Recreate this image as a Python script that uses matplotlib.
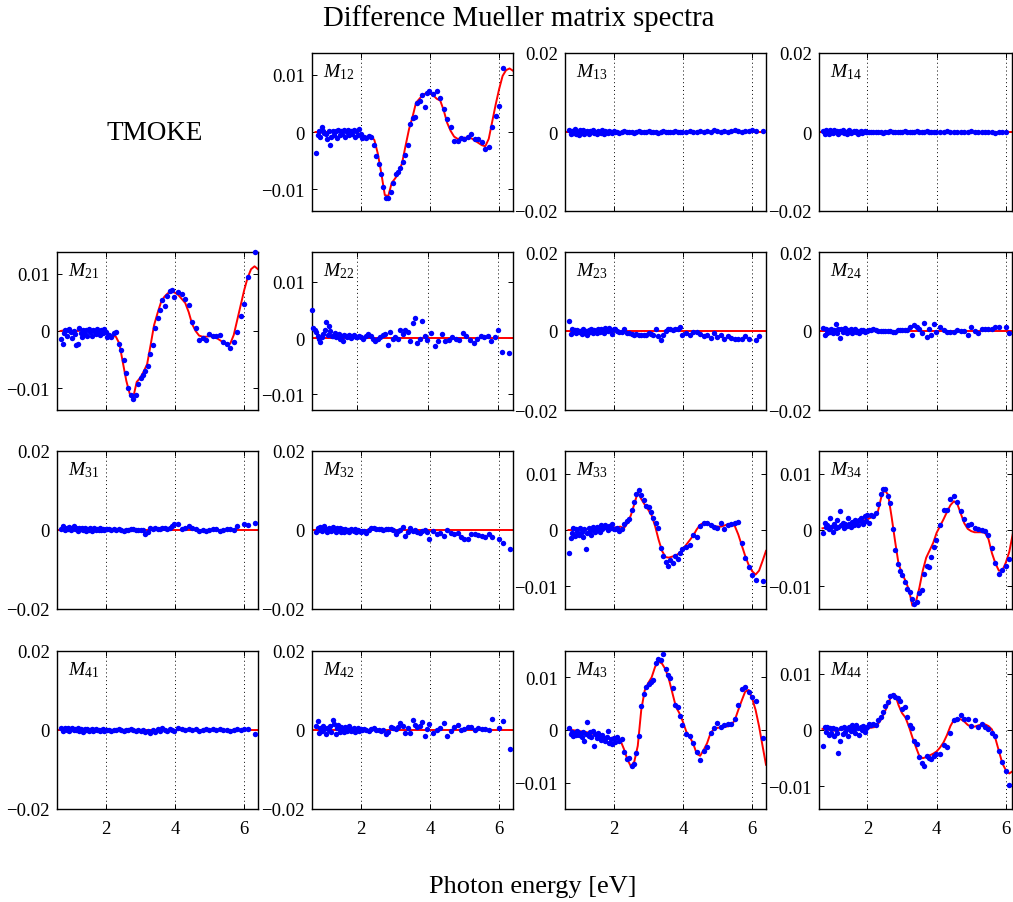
import numpy as np
import matplotlib
matplotlib.use("Agg")
import matplotlib.pyplot as plt

plt.rcParams['font.family'] = ['Liberation Serif', 'DejaVu Serif']
plt.rcParams['mathtext.fontset'] = 'custom'
plt.rcParams['mathtext.rm'] = 'Liberation Serif'
plt.rcParams['mathtext.it'] = 'Liberation Serif:italic'

nan = float('nan')

# photon energy of measured points [eV]
energy = [0.72, 0.76, 0.80, 0.84, 0.88, 0.92, 0.96, 1.00, 1.04, 1.08, 1.12, 1.16,
          1.20, 1.24, 1.28, 1.32, 1.36, 1.40, 1.44, 1.48, 1.52, 1.56, 1.60, 1.64,
          1.68, 1.72, 1.76, 1.80, 1.84, 1.88, 1.92, 1.96, 2.00, 2.04,
          2.10, 2.17, 2.24, 2.31, 2.38, 2.45, 2.52, 2.59, 2.66, 2.73, 2.80, 2.87,
          2.94, 3.01, 3.08, 3.15, 3.22, 3.29, 3.36, 3.43, 3.50, 3.57, 3.64, 3.71,
          3.78, 3.85, 3.92, 3.99,
          4.10, 4.20, 4.30, 4.40, 4.50, 4.60, 4.70, 4.80, 4.90, 5.00, 5.10, 5.20,
          5.30, 5.40, 5.50, 5.60, 5.70, 5.80, 5.90, 6.00, 6.10, 6.20, 6.30]

# photon energy of model curves [eV]
energy_fit = [0.7, 0.8, 0.9, 1.0, 1.1, 1.2, 1.3, 1.4, 1.5, 1.6,
              1.7, 1.8, 1.9, 2.0, 2.1, 2.2, 2.3, 2.4, 2.5, 2.6,
              2.7, 2.8, 2.9, 3.0, 3.1, 3.2, 3.3, 3.4, 3.5, 3.6,
              3.7, 3.8, 3.9, 4.0, 4.1, 4.2, 4.3, 4.4, 4.5, 4.6,
              4.7, 4.8, 4.9, 5.0, 5.1, 5.2, 5.3, 5.4, 5.5, 5.6,
              5.7, 5.8, 5.9, 6.0, 6.1, 6.2, 6.3, 6.4]
energy_zero = [0.6, 6.45]
fit_zero = [0.0, 0.0]

# all values below in units of 1e-3
m12_data = ([-3.6, -0.6, 0.2, -0.8, 0.9, 0.1, -0.2, -0.4, -1.2, 0.2, -2.3, -0.9,
             0.2, -0.5, 0.1, -1.0, 0.3, -0.6, 0.2, -0.4, 0.4, -0.8, 0.0, 0.3,
             -0.6, 0.2, -0.3, 0.4, -0.8, 0.2, -0.5, 0.5, -0.3, -1.1]
            + [-0.9, -1.0, -0.7, -0.8, -2.2, -4.2, -5.6, -7.4, -9.6, -11.5, -11.6, -10.4,
               -8.9, -7.3, -6.9, -6.3, -5.2, -4.0, -2.2, 1.4, 2.4, 2.7, 5.1, 5.4,
               6.4, 4.4, 6.8, 7.1]
            + [6.6, 7.2, 6.0, 4.0, 2.3, 0.8, -1.5, -1.6, -1.0, -1.3, -0.9, -0.4,
               -1.2, -1.3, -1.8, -3.0, -2.6, 0.8, 2.8, 4.5, 11.1, nan, nan])
m12_fit = [0.0, 0.0, -0.1, 0.0, 0.0, 0.1, 0.0, 0.1, 0.2, 0.2,
           0.3, 0.2, 0.0, -0.5, -1.0, -0.8, -0.7, -1.4, -3.8, -7.2,
           -11.0, -11.2, -8.9, -8.1, -7.2, -5.4, -2.4, 0.5, 2.6, 5.1,
           5.8, 6.5, 6.8, 6.9, 6.4, 5.8, 5.5, 3.8, 1.6, 0.2,
           -0.8, -1.2, -1.1, -1.0, -1.0, -1.1, -1.5, -1.9, -2.3, -2.5,
           -1.2, 1.8, 4.8, 7.5, 9.8, 10.8, 11.1, 10.7]

m13_data = ([0.5, -0.6, 0.2, -0.3, 0.8, -0.5, 0.1, -0.8, 0.4, -0.2, 0.6, -0.4,
             0.0, 0.3, -0.6, 0.2, -0.1, 0.5, -0.3, 0.1, -0.5, 0.3, 0.0, -0.2,
             0.4, -0.4, 0.2, 0.0, -0.3, 0.3, 0.1, -0.2, 0.2, 0.0]
            + [0.1, -0.2, 0.0, 0.2, -0.1, 0.0, 0.1, -0.2, 0.0, 0.2, 0.1, -0.1,
               0.0, 0.3, -0.1, 0.1, 0.0, -0.2, 0.1, 0.2, 0.0, -0.1, 0.1, 0.0,
               0.2, -0.1, 0.0, 0.1]
            + [0.0, 0.2, -0.1, 0.1, 0.3, 0.0, 0.2, 0.1, 0.4, 0.2, 0.1, 0.3,
               0.0, 0.2, 0.4, 0.3, 0.1, 0.3, 0.2, 0.4, 0.3, nan, 0.2])

m14_data = ([0.3, -0.4, 0.6, 0.0, -0.5, 0.4, 0.1, -0.3, 0.5, -0.1, 0.2, -0.6,
             0.3, 0.0, 0.4, -0.2, 0.1, -0.4, 0.2, 0.5, -0.3, 0.0, 0.3, -0.1,
             0.2, -0.4, 0.1, 0.3, -0.2, 0.0, 0.2, -0.1, 0.1, 0.0]
            + [0.1, 0.0, -0.1, 0.1, 0.0, -0.2, 0.1, 0.0, 0.2, -0.1, 0.0, 0.1,
               -0.1, 0.0, 0.2, 0.1, -0.1, 0.0, 0.1, 0.3, 0.0, -0.1, 0.1, 0.2,
               0.0, -0.1, 0.1, 0.0]
            + [0.1, 0.0, 0.2, -0.1, 0.0, 0.1, 0.0, -0.1, 0.1, 0.2, 0.0, 0.1,
               -0.1, 0.0, 0.1, 0.0, -0.2, 0.1, 0.0, 0.1, nan, nan, nan])

m21_data = ([-1.4, -2.2, -0.3, 0.2, -0.9, 0.1, 0.3, -0.2, -1.2, 0.0, -0.6, -2.5,
             -2.2, 0.6, -0.3, -1.0, 0.1, -0.5, 0.2, -0.8, 0.3, -0.2, -0.9, 0.2,
             0.0, -0.6, 0.3, -0.1, -0.7, 0.2, -0.4, 0.4, -0.2, -1.0]
            + [-0.7, -1.1, -0.4, -0.1, -2.3, -3.4, -5.0, -7.4, -10.0, -11.2, -11.8, -11.2,
               -9.2, -8.2, -7.6, -7.0, -6.2, -4.0, -2.5, 0.5, 2.3, 3.7, 5.4, 4.3,
               6.1, 7.0, 7.2, 5.9]
            + [6.8, 6.5, 5.6, 4.5, 1.6, 0.5, -1.5, -1.3, -1.5, -0.6, -0.8, -0.9,
               -0.7, -1.9, -2.3, -3.0, -1.9, -0.2, 2.6, 4.8, 9.5, nan, 13.8])
m21_fit = [0.0, 0.1, 0.0, 0.0, 0.1, 0.0, 0.1, 0.1, 0.2, 0.2,
           0.2, 0.1, 0.0, -0.3, -0.9, -0.8, -1.0, -2.2, -5.5, -8.7,
           -11.0, -11.6, -8.9, -8.2, -7.1, -5.8, -2.5, 1.0, 3.1, 5.0,
           6.0, 6.6, 6.9, 6.7, 6.3, 5.6, 4.9, 3.3, 1.2, 0.0,
           -0.8, -1.0, -1.0, -0.9, -1.0, -1.2, -1.6, -2.0, -2.4, -2.2,
           -0.7, 1.9, 4.5, 7.1, 9.3, 10.8, 11.3, 10.8]

m22_data = ([5.0, 1.8, 1.4, 1.0, 0.4, -0.2, -0.7, 0.2, 0.7, 1.5, 2.8, 0.5,
             2.2, 1.3, 0.3, 0.4, 0.9, 0.1, 0.5, 0.7, -0.1, 0.3, -0.5, 0.6,
             0.4, 0.2, 0.5, 0.3, 0.0, 0.3, 0.6, 0.1, 0.2, 0.4]
            + [0.2, -0.1, 0.3, 0.7, 0.4, -0.1, -0.5, -0.2, 0.1, 0.6, 0.7, -1.3,
               1.0, -0.1, 0.2, -0.2, 1.5, 0.8, 1.5, 1.0, -0.5, 2.7, 3.6, -0.8,
               -0.2, 3.0, 0.4, -0.4]
            + [0.9, -1.4, -0.5, 0.7, -0.5, -0.4, 0.1, -0.1, -0.4, 0.9, 0.4, -0.3,
               -0.8, -0.1, 0.4, 0.2, 0.4, -0.6, 0.1, 1.5, -2.4, nan, -2.6])

m23_data = ([2.6, -0.8, 0.5, -0.3, 0.2, -0.6, 0.3, -0.2, 0.0, -0.7, 0.4, -0.4,
             0.1, -0.9, 0.3, -0.2, 0.5, -0.5, 0.2, 0.0, -0.6, 0.4, -0.3, 0.6,
             0.1, -0.4, 0.7, 0.2, -0.1, 0.8, 0.3, -0.8, 0.6, 0.4]
            + [0.1, -0.2, -0.3, 0.4, -0.5, -0.6, -0.7, -0.9, -0.8, -0.9, -1.0, -0.9,
               -0.9, -0.6, -0.8, -0.9, 0.6, -1.2, -2.3, -0.9, 0.0, 0.6, 0.4, 0.3,
               0.6, 0.4, 1.1, -0.9]
            + [-0.4, -0.9, -0.3, -0.3, -0.7, -1.3, -0.9, -1.7, -0.6, -1.4, -0.9, -2.0,
               -1.3, -1.7, -2.1, -2.1, -2.0, -1.3, -2.0, nan, -2.3, -1.3, nan])

m24_data = ([0.8, -1.0, 0.5, -0.6, 0.3, -0.3, 0.6, -0.5, 0.2, 1.7, -0.4, 0.5,
             -1.7, 0.6, -0.2, 0.4, 0.7, -0.4, 0.3, -0.1, 0.5, -0.6, 0.2, 0.4,
             -0.3, 0.1, -0.5, 0.3, 0.0, 0.2, -0.2, 0.1, 0.0, 0.3]
            + [0.2, 0.4, 0.3, 0.1, 0.0, 0.1, 0.0, -0.1, 0.0, -0.2, -0.3, 0.3,
               0.2, 0.3, 0.2, 0.3, 1.1, -1.1, 1.4, 1.1, 0.4, -0.6, 2.1, -1.4,
               0.6, -1.1, 1.7, -0.3]
            + [0.9, 0.3, -0.3, -0.3, -0.3, 0.3, 0.0, 0.0, -0.9, 1.1, 0.0, -0.6,
               0.5, 0.6, 0.6, 0.6, 1.1, 1.1, nan, 1.1, -0.6, nan, nan])

m31_data = ([0.2, 0.9, 0.4, -0.1, 0.6, 0.3, 0.7, 0.0, 0.5, 0.9, 0.2, 0.4,
             -0.2, 0.6, 0.3, 0.5, 0.0, 0.4, -0.3, 0.3, 0.1, 0.5, -0.2, 0.2,
             0.4, 0.0, 0.3, -0.1, 0.4, 0.1, 0.3, 0.0, 0.2, 0.3]
            + [0.3, 0.1, 0.3, 0.0, 0.2, 0.1, -0.3, 0.1, 0.0, 0.2, 0.3, 0.1,
               0.0, -0.1, 0.0, -0.9, -0.5, 0.6, 0.2, 0.4, 0.3, 0.3, 0.5, 0.6,
               0.3, 0.5, 0.9, 1.5]
            + [1.5, 0.2, 0.5, 0.9, 0.6, 0.3, -0.3, 0.0, -0.3, 0.1, 0.2, 0.3,
               -0.3, 0.0, 0.3, 0.3, 0.0, 0.9, nan, 1.5, 1.2, nan, 1.7])

m32_data = ([-0.6, 0.5, 0.1, 0.8, -0.2, 0.4, 1.0, 0.2, -0.4, 0.6, 0.3, -0.3,
             0.7, 0.1, -0.5, 0.4, 0.0, 0.5, -0.4, 0.2, -0.6, 0.3, -0.2, 0.1,
             -0.4, 0.2, 0.0, -0.3, 0.2, -0.5, 0.0, -0.2, -0.6, -0.3]
            + [-0.2, -0.7, 0.1, 0.6, 0.4, 0.3, 0.2, 0.3, 0.1, 0.3, 0.2, 0.3,
               0.1, -1.1, -0.2, 0.0, 0.8, -1.5, -0.4, 0.6, -0.3, 0.0, -0.4, -0.7,
               -0.2, 0.0, -0.6, -2.4]
            + [-0.3, -1.1, -0.7, -1.5, 0.0, -0.7, -1.1, -0.7, -1.7, -2.2, -2.2, -0.9,
               -1.1, -1.3, -1.6, -1.8, -1.1, -1.7, nan, -2.2, -3.2, nan, -4.9])

m33_data = ([-4.0, -1.5, -0.6, 0.3, -1.0, 0.2, -0.4, -0.8, 0.4, -0.3, -1.2, 0.1,
             -3.4, -0.6, 0.3, -0.2, -0.9, 0.5, 0.0, -0.4, 0.6, 0.2, -0.3, 0.8,
             0.1, 0.5, 0.9, 0.3, 0.0, 0.7, 0.4, 1.0, 0.1, 0.2]
            + [0.3, -0.2, 0.1, 1.1, 1.6, 1.9, 3.5, 4.9, 6.3, 7.1, 6.2, 5.3,
               4.3, 4.0, 3.2, 2.1, 1.2, 0.3, -3.2, -4.6, -5.6, -6.3, -5.4, -5.8,
               -4.6, -5.1, -4.1, -3.4]
            + [-3.1, -2.6, -0.9, -1.3, 0.7, 1.2, 1.2, 0.9, 0.6, 0.4, 1.3, 0.1,
               0.8, 1.0, 1.2, 1.4, -2.3, -4.9, -6.6, -7.9, -8.8, nan, -9.1])
m33_fit = [0.0, 0.0, 0.1, 0.0, 0.1, 0.1, 0.2, 0.2, 0.2, 0.3,
           0.3, 0.3, 0.3, 0.4, 0.5, 0.6, 0.3, 1.2, 2.6, 4.6,
           6.7, 5.5, 4.5, 3.6, 2.6, 0.7, -1.7, -3.7, -4.8, -4.9,
           -4.7, -4.5, -4.1, -3.4, -2.6, -1.8, -1.0, 0.1, 0.9, 1.3,
           1.4, 1.0, 0.7, 0.6, 0.6, 0.8, 1.0, 1.0, 0.7, -0.8,
           -2.7, -4.6, -6.2, -7.3, -7.9, -7.2, -5.5, -3.7]

m34_data = ([-0.5, 1.3, 0.5, 0.9, 0.2, 2.2, 0.6, -0.3, 1.0, 0.4, 1.7, 0.6,
             3.4, 0.8, 1.2, 0.4, 1.0, 0.7, 2.2, 1.1, 0.6, 1.4, 0.9, 1.8,
             1.2, 0.8, 1.7, 2.1, 1.4, 1.0, 2.5, 1.6, 2.7, 1.2]
            + [2.6, 2.4, 3.0, 4.6, 6.3, 7.2, 7.2, 6.1, 4.8, 0.2, -3.6, -6.1,
               -7.3, -8.0, -9.2, -10.5, -11.0, -12.2, -13.1, -12.8, -11.2, -10.6, -7.8, -6.4,
               -6.6, -4.7, -3.0, -1.8]
            + [0.9, 3.6, 3.6, 5.5, 6.1, 4.9, 3.4, 2.0, 0.8, 1.0, 0.4, 0.1,
               0.0, -0.2, -0.9, -3.2, -5.8, -7.8, -7.0, -6.3, -5.1, nan, nan])
m34_fit = [0.3, 0.4, 0.5, 0.5, 0.6, 0.7, 0.8, 0.9, 1.1, 1.3,
           1.4, 1.6, 1.7, 1.9, 2.2, 2.6, 3.2, 5.8, 7.1, 6.2,
           2.3, -2.0, -6.0, -7.7, -9.0, -10.6, -13.4, -12.8, -10.3, -7.2,
           -4.9, -3.6, -2.3, -0.5, 0.7, 1.9, 3.2, 4.4, 5.1, 4.6,
           2.9, 1.2, 0.2, -0.2, -0.4, -0.4, -0.4, -0.5, -1.6, -4.1,
           -5.9, -7.2, -7.2, -5.8, -3.9, -0.8, 2.0, 4.0]

m41_data = ([0.4, -0.2, 0.3, 0.6, 0.0, 0.4, -0.3, 0.2, 0.5, -0.1, 0.3, 0.0,
             0.4, -0.3, 0.2, 0.1, -0.4, 0.3, 0.0, 0.2, -0.2, 0.1, 0.3, -0.3,
             0.0, 0.2, -0.1, 0.1, -0.3, 0.0, 0.2, -0.2, 0.0, -0.1]
            + [0.0, -0.2, 0.1, -0.1, 0.2, 0.0, -0.2, 0.1, -0.1, 0.2, 0.0, -0.2,
               0.1, -0.3, -0.1, -0.5, -0.2, -0.7, 0.1, -0.4, 0.2, -0.2, 0.4, 0.1,
               -0.3, 0.3, 0.0, -0.2]
            + [0.5, 0.2, -0.1, 0.3, 0.0, 0.2, -0.2, 0.1, 0.3, 0.0, 0.2, -0.1,
               0.2, 0.0, 0.1, -0.2, 0.1, 0.3, 0.0, 0.2, 0.3, nan, -1.0])

m42_data = ([1.0, 2.4, -0.8, 0.5, -0.3, 1.1, 0.2, -0.9, 0.6, 0.0, 0.9, -0.5,
             2.5, 1.6, -1.0, 0.4, 1.3, -0.6, 0.8, 0.1, -0.4, 0.7, -0.2, 0.5,
             1.1, -0.3, 0.2, 0.6, -0.5, 0.0, 0.4, -0.3, 0.3, -0.1]
            + [0.2, 0.0, -0.3, 0.2, 0.4, 0.1, 0.0, -0.2, 0.0, -1.0, -0.4, 0.7,
               0.4, 0.2, 0.8, 1.7, 1.0, -0.8, 0.4, -0.8, 2.5, 1.3, 0.7, 0.9,
               1.9, -1.5, 0.2, 1.5]
            + [-0.7, 0.0, 0.4, 1.7, -1.5, -0.2, 0.8, 1.3, 0.0, 0.2, 0.7, 0.8,
               0.0, 0.4, 0.2, 0.2, 0.0, 2.7, nan, 0.4, 2.4, nan, -4.7])

m43_data = ([0.3, -0.8, -0.3, -1.2, -0.5, -0.9, -0.2, -1.0, -0.6, -1.4, -0.4, -2.0,
             -0.7, 1.5, -1.1, -0.3, -1.3, -0.1, -3.0, -0.8, -1.6, -0.6, -1.2, -1.9,
             -1.0, -1.5, -2.1, -1.3, -0.2, -2.4, -1.8, -2.6, -1.6, -2.3]
            + [-1.4, -2.0, -1.8, -4.2, -5.5, -5.4, -6.8, -6.5, -4.4, -1.2, 4.5, 6.9,
               8.1, 8.8, 9.2, 9.5, 12.7, 13.5, 13.3, 14.5, 11.5, 10.4, 9.8, 7.9,
               4.8, 4.3, 2.7, 1.0]
            + [-0.7, -1.2, -2.4, -4.1, -5.7, -3.9, -3.2, -0.6, 0.3, 1.4, 0.5, 1.0,
               1.1, 1.2, 2.1, 4.8, 7.8, 8.1, 7.3, 6.3, 5.6, nan, -1.5])
m43_fit = [0.2, 0.0, -0.1, -0.2, -0.3, -0.4, -0.5, -0.7, -0.8, -1.0,
           -1.2, -1.5, -1.6, -1.4, -1.6, -2.0, -3.6, -5.6, -6.9, -6.0,
           -3.0, 3.8, 7.5, 8.9, 10.0, 12.0, 13.0, 12.6, 11.5, 9.6,
           7.0, 4.4, 3.2, 1.6, -0.3, -1.3, -2.6, -4.5, -4.9, -3.8,
           -2.5, -0.6, 0.2, 0.4, 0.5, 0.6, 0.7, 0.9, 1.9, 3.8,
           5.6, 7.3, 7.6, 6.0, 3.8, 0.7, -3.0, -6.6]

m44_data = ([-2.9, 0.6, -0.3, 0.5, -0.8, 0.3, -0.5, 0.4, -1.1, 0.2, -0.6, -4.1,
             -1.9, 0.3, -0.7, 0.5, -0.4, 0.2, -1.0, 0.6, -0.2, 0.9, 0.1, -0.6,
             0.8, 0.3, -0.8, 0.5, 0.0, 0.7, -0.3, 0.4, 0.6, 1.1]
            + [0.8, 1.1, 0.9, 1.8, 2.3, 3.2, 4.3, 5.0, 6.0, 6.2, 5.9, 5.6,
               5.2, 3.8, 4.0, 2.3, 0.9, 0.4, -2.0, -2.4, -4.7, -5.8, -6.3, -4.6,
               -4.9, -5.2, -4.6, -4.3]
            + [-4.3, -2.6, -3.1, -0.5, 1.8, 1.9, 2.6, 2.0, 2.0, 0.7, 1.7, 0.5,
               1.1, 0.6, 0.2, -0.5, -1.1, -3.8, -5.6, -7.2, -9.8, nan, nan])
m44_fit = [0.2, 0.1, 0.0, -0.1, -0.1, 0.0, 0.1, 0.2, 0.3, 0.3,
           0.3, 0.3, 0.3, 0.3, 0.4, 0.5, 1.0, 1.9, 3.2, 4.6,
           6.2, 6.3, 4.4, 3.0, 2.2, 0.6, -1.3, -3.0, -4.6, -5.0,
           -4.8, -4.5, -4.2, -3.8, -3.1, -2.2, -0.9, 0.7, 1.8, 2.0,
           1.9, 1.5, 0.9, 0.6, 0.6, 0.8, 1.0, 1.0, 0.7, 0.1,
           -1.5, -3.7, -5.9, -7.1, -7.7, -7.3, -6.5, -5.5]

small_ticks = [-0.01, 0, 0.01]
small_labels = ['\u22120.01', '0', '0.01']
big_ticks = [-0.02, 0, 0.02]
big_labels = ['\u22120.02', '0', '0.02']

# name, row, col, data, fit energies, fit, ylim, xlim
panels = [
    ('12', 0, 1, m12_data, energy_fit, m12_fit, (-0.0138, 0.0138), (0.6, 6.4)),
    ('13', 0, 2, m13_data, energy_zero, fit_zero, (-0.02, 0.02), (0.6, 6.4)),
    ('14', 0, 3, m14_data, energy_zero, fit_zero, (-0.02, 0.02), (0.6, 6.18)),
    ('21', 1, 0, m21_data, energy_fit, m21_fit, (-0.0138, 0.0138), (0.6, 6.4)),
    ('22', 1, 1, m22_data, energy_zero, fit_zero, (-0.0128, 0.0153), (0.72, 6.42)),
    ('23', 1, 2, m23_data, energy_zero, fit_zero, (-0.02, 0.02), (0.6, 6.4)),
    ('24', 1, 3, m24_data, energy_zero, fit_zero, (-0.02, 0.02), (0.6, 6.18)),
    ('31', 2, 0, m31_data, energy_zero, fit_zero, (-0.02, 0.02), (0.6, 6.4)),
    ('32', 2, 1, m32_data, energy_zero, fit_zero, (-0.02, 0.02), (0.6, 6.4)),
    ('33', 2, 2, m33_data, energy_fit, m33_fit, (-0.014, 0.014), (0.6, 6.4)),
    ('34', 2, 3, m34_data, energy_fit, m34_fit, (-0.014, 0.014), (0.6, 6.18)),
    ('41', 3, 0, m41_data, energy_zero, fit_zero, (-0.02, 0.02), (0.6, 6.4)),
    ('42', 3, 1, m42_data, energy_zero, fit_zero, (-0.02, 0.02), (0.6, 6.4)),
    ('43', 3, 2, m43_data, energy_fit, m43_fit, (-0.015, 0.015), (0.6, 6.4)),
    ('44', 3, 3, m44_data, energy_fit, m44_fit, (-0.014, 0.014), (0.6, 6.18)),
]

W, H = 1013.0, 903.0
col_x = [57, 312, 565, 819]
col_w = [201, 201, 201, 193]
row_y = [54, 253, 452, 652]
ah = 158

fig = plt.figure(figsize=(10.13, 9.03), dpi=100)

for name, r, c, data, fe, fit, ylim, xlim in panels:
    ax = fig.add_axes([col_x[c] / W, 1 - (row_y[r] + ah) / H, col_w[c] / W, ah / H])
    ax.plot(fe, np.array(fit) * 1e-3, color='#ff0000', lw=1.4, zorder=2)
    ax.plot(energy, np.array(data) * 1e-3, 'o', color='#0000ff', ms=3.9, mew=0,
            zorder=3, clip_on=(c == 3))
    ax.set_xlim(*xlim)
    ax.set_ylim(*ylim)
    if ylim[1] > 0.018:
        ax.set_yticks(big_ticks)
        ax.set_yticklabels(big_labels)
    else:
        ax.set_yticks(small_ticks)
        ax.set_yticklabels(small_labels)
    ax.set_xticks([2, 4, 6])
    if r == 3:
        ax.set_xticklabels(['2', '4', '6'])
    else:
        ax.set_xticklabels([])
    ax.tick_params(direction='in', top=True, right=True, length=3.5, width=0.7,
                   labelsize=13.5, pad=5)
    ax.tick_params(axis='x', pad=8)
    ax.grid(axis='x', color='k', linestyle=(0, (1, 3)), lw=0.7)
    for s in ax.spines.values():
        s.set_linewidth(1.0)
    ax.text(0.055, 0.855, r'$M_{%s}$' % name, transform=ax.transAxes,
            fontsize=14, va='baseline', ha='left')

fig.text(519 / W, 1 - 19 / H, 'Difference Mueller matrix spectra',
         ha='center', va='center', fontsize=20.7)
fig.text(533 / W, 1 - 887 / H, 'Photon energy [eV]',
         ha='center', va='center', fontsize=19)
fig.text(155 / W, 1 - 133 / H, 'TMOKE', ha='center', va='center', fontsize=19.5)

fig.savefig('out.png', dpi=100)
